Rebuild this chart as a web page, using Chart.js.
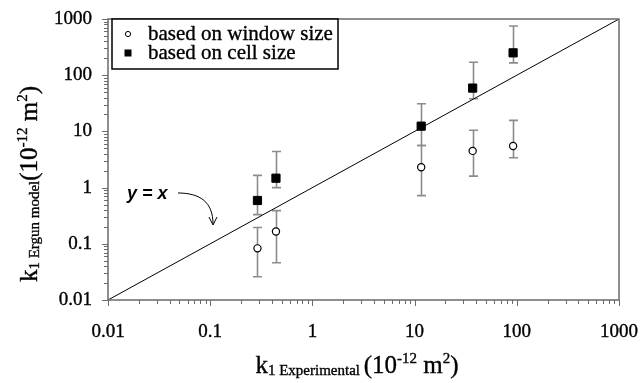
<!DOCTYPE html>
<html>
<head>
<meta charset="utf-8">
<script src="https://cdn.jsdelivr.net/npm/chart.js@4"></script>
<style>
  body { margin: 0; background: #fff; }
</style>
</head>
<body>
<canvas id="chart" width="640" height="383"></canvas>
<script>
// axis decades
const tickVals = [0.01, 0.1, 1, 10, 100, 1000];
const tickLabels = ["0.01", "0.1", "1", "10", "100", "1000"];

// k1 experimental (x) for both series
const kExp = [0.29, 0.44, 11.6, 37, 92];

// based on window size
const winK = [0.083, 0.166, 2.3, 4.5, 5.5];
const winHi = [0.195, 0.39, 5.6, 10.5, 15.7];
const winLo = [0.026, 0.046, 0.72, 1.6, 3.4];

// based on cell size
const cellK = [0.59, 1.47, 12.4, 59, 250];
const cellHi = [1.65, 4.4, 31, 170, 750];
const cellLo = [0.33, 1.0, 5.6, 38, 166];

// y = x reference line
const lineX = [0.01, 1000];

const SERIF = "'Liberation Serif', 'Times New Roman', serif";

function toPoints(xs, ys) {
  return xs.map((v, i) => ({ x: v, y: ys[i] }));
}

// text with a slight stroke so it reads heavier, like the original
function heavyText(ctx, t, x, y) {
  ctx.fillText(t, x, y);
  ctx.strokeText(t, x, y);
}

// draw a line of text made of normal / sub / superscript parts, centred on x
function drawRich(ctx, parts, cx, baseY) {
  let total = 0;
  parts.forEach(p => {
    ctx.font = p.s + "px " + SERIF;
    p.w = ctx.measureText(p.t).width;
    total += p.w;
  });
  let x = cx - total / 2;
  ctx.textAlign = "left";
  ctx.textBaseline = "alphabetic";
  parts.forEach(p => {
    ctx.font = p.s + "px " + SERIF;
    heavyText(ctx, p.t, x, baseY + (p.dy || 0));
    x += p.w;
  });
}

const errorBars = {
  id: "errorBars",
  beforeDatasetsDraw(chart) {
    const { ctx, scales: { x, y } } = chart;
    ctx.save();
    ctx.strokeStyle = "#8c8c8c";
    ctx.lineWidth = 1.6;
    [[winLo, winHi], [cellLo, cellHi]].forEach(([lo, hi]) => {
      kExp.forEach((v, i) => {
        const px = Math.round(x.getPixelForValue(v)) + 0.5;
        const y1 = y.getPixelForValue(lo[i]);
        const y2 = y.getPixelForValue(hi[i]);
        ctx.beginPath();
        ctx.moveTo(px, y1); ctx.lineTo(px, y2);
        ctx.moveTo(px - 4.5, y1); ctx.lineTo(px + 4.5, y1);
        ctx.moveTo(px - 4.5, y2); ctx.lineTo(px + 4.5, y2);
        ctx.stroke();
      });
    });
    ctx.restore();
  }
};

const decorations = {
  id: "decorations",
  afterDraw(chart) {
    const { ctx, chartArea: a, scales: { x, y } } = chart;
    ctx.save();

    // frame
    ctx.strokeStyle = "#6a6a6a";
    ctx.lineWidth = 1.5;
    ctx.strokeRect(a.left, a.top, a.right - a.left, a.bottom - a.top);

    // ticks (outside) on left and bottom
    ctx.lineWidth = 1;
    ctx.beginPath();
    for (let d = 0; d < tickVals.length; d++) {
      for (let m = 1; m <= 9; m++) {
        const v = tickVals[d] * m;
        if (v > 1000) break;
        const len = m === 1 ? 6 : 4;
        const px = Math.round(x.getPixelForValue(v)) + 0.5;
        ctx.moveTo(px, a.bottom); ctx.lineTo(px, a.bottom + len);
        const py = Math.round(y.getPixelForValue(v)) + 0.5;
        ctx.moveTo(a.left, py); ctx.lineTo(a.left - len, py);
      }
    }
    ctx.stroke();

    // tick labels
    ctx.fillStyle = "#000";
    ctx.strokeStyle = "#000";
    ctx.lineWidth = 0.35;
    ctx.font = "19px " + SERIF;
    ctx.textBaseline = "middle";
    ctx.textAlign = "right";
    tickVals.forEach((v, i) => heavyText(ctx, tickLabels[i], 92, y.getPixelForValue(v)));
    ctx.textAlign = "center";
    tickVals.forEach((v, i) => heavyText(ctx, tickLabels[i], x.getPixelForValue(v), 332));

    // axis titles
    drawRich(ctx, [
      { t: "k", s: 25 },
      { t: "1 Experimental ", s: 15, dy: 2 },
      { t: "(10", s: 25 },
      { t: "-12", s: 15, dy: -10 },
      { t: " m", s: 25 },
      { t: "2", s: 15, dy: -10 },
      { t: ")", s: 25 }
    ], 357, 373);

    ctx.save();
    ctx.translate(37, 184);
    ctx.rotate(-Math.PI / 2);
    drawRich(ctx, [
      { t: "k", s: 25 },
      { t: "1 Ergun model", s: 15, dy: 2 },
      { t: "(10", s: 25 },
      { t: "-12", s: 15, dy: -10 },
      { t: " m", s: 25 },
      { t: "2", s: 15, dy: -10 },
      { t: ")", s: 25 }
    ], 0, 0);
    ctx.restore();

    // legend box
    ctx.fillStyle = "#fff";
    ctx.fillRect(112, a.top, 226, 50);
    ctx.strokeStyle = "#000";
    ctx.lineWidth = 1.5;
    ctx.strokeRect(112, a.top, 226, 50);
    ctx.lineWidth = 1;
    ctx.beginPath();
    ctx.arc(128, 34, 2.6, 0, Math.PI * 2);
    ctx.stroke();
    ctx.fillStyle = "#000";
    ctx.fillRect(124.5, 49.5, 7, 7);
    ctx.lineWidth = 0.35;
    ctx.font = "21px " + SERIF;
    ctx.textAlign = "left";
    ctx.textBaseline = "alphabetic";
    heavyText(ctx, "based on window size", 148, 40);
    heavyText(ctx, "based on cell size", 148, 59);

    // y = x annotation with curved arrow
    ctx.font = "italic bold 18px 'Liberation Sans', Arial, sans-serif";
    ctx.fillText("y = x", 127, 199);
    ctx.lineWidth = 1;
    ctx.beginPath();
    ctx.moveTo(178, 193);
    ctx.bezierCurveTo(200, 193, 213, 202, 213, 224);
    ctx.moveTo(209, 217); ctx.lineTo(213, 225); ctx.lineTo(217, 217);
    ctx.stroke();

    ctx.restore();
  }
};

new Chart(document.getElementById("chart"), {
  type: "scatter",
  data: {
    datasets: [
      {
        label: "y = x",
        data: toPoints(lineX, lineX),
        showLine: true,
        borderColor: "#000",
        borderWidth: 1,
        pointRadius: 0
      },
      {
        label: "based on window size",
        data: toPoints(kExp, winK),
        pointStyle: "circle",
        pointRadius: 3.6,
        backgroundColor: "#fff",
        borderColor: "#000",
        borderWidth: 1.2
      },
      {
        label: "based on cell size",
        data: toPoints(kExp, cellK),
        pointStyle: "rect",
        pointRadius: 5.8,
        backgroundColor: "#000",
        borderColor: "#000",
        borderWidth: 1
      }
    ]
  },
  options: {
    responsive: false,
    animation: false,
    layout: { padding: { left: 108, right: 21, top: 19, bottom: 83 } },
    scales: {
      x: { type: "logarithmic", min: 0.01, max: 1000, display: false },
      y: { type: "logarithmic", min: 0.01, max: 1000, display: false }
    },
    plugins: {
      legend: { display: false },
      tooltip: { enabled: false }
    }
  },
  plugins: [errorBars, decorations]
});
</script>
</body>
</html>
